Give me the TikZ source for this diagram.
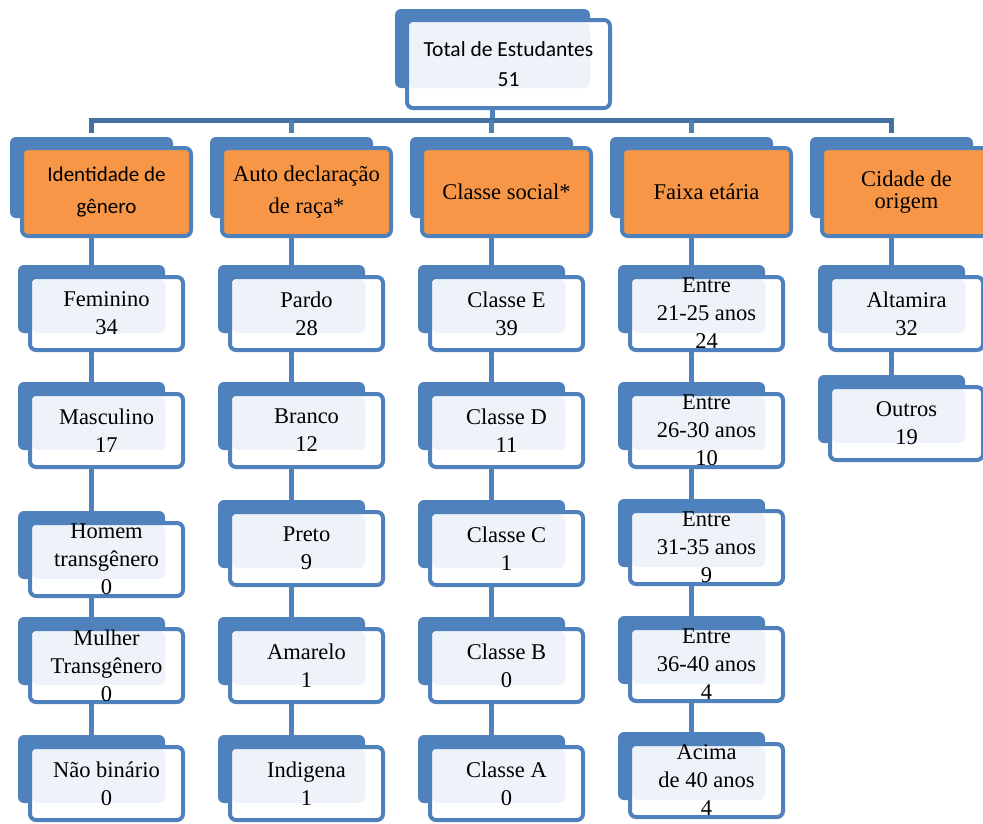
\documentclass[tikz,border=0pt]{standalone}
\usepackage{fontspec}
\setmainfont{Liberation Serif}
\newfontfamily\sansf{Carlito}
\usetikzlibrary{backgrounds}
\definecolor{obl}{HTML}{4F81BD}
\definecolor{obus}{HTML}{44709F}
\definecolor{oor}{HTML}{F79646}
\definecolor{olt}{HTML}{EEF2F9}
\tikzset{
 backbox/.style={fill=obl, draw=none, rounded corners=6pt, inner sep=0pt, outer sep=0pt, anchor=north west},
 kidb/.style={backbox, minimum width=147pt, minimum height=68pt},
 kidf/.style={draw=obl, line width=4pt, fill=white, rounded corners=6pt, inner sep=0pt,
   anchor=north west, minimum width=153pt, minimum height=73pt, align=center,
   font=\fontsize{22.5}{28}\selectfont,
   path picture={\fill[olt] ([shift={(2pt,-2pt)}]path picture bounding box.north west) rectangle ([shift={(-18pt,17pt)}]path picture bounding box.south east);}},
 catb/.style={backbox, minimum width=163pt, minimum height=81pt},
 catf/.style={draw=obl, line width=4pt, fill=oor, rounded corners=6pt, inner sep=0pt,
   anchor=north west, minimum width=169pt, minimum height=88pt, align=center,
   font=\fontsize{22.5}{32}\selectfont},
 topb/.style={backbox, minimum width=195pt, minimum height=79pt},
 topf/.style={draw=obl, line width=4pt, fill=white, rounded corners=6pt, inner sep=0pt,
   anchor=north west, minimum width=203pt, minimum height=88pt, align=center,
   font=\sansf\fontsize{21.5}{30}\selectfont,
   path picture={\fill[olt] ([shift={(2pt,-2pt)}]path picture bounding box.north west) rectangle ([shift={(-20pt,20pt)}]path picture bounding box.south east);}},
 conn/.style={draw=obl, line width=5pt},
 busline/.style={draw=obus, line width=5pt, line join=miter}
}
\newcommand\kidbox[4]{%
 \node[kidb] (#1-b) at (#2pt,-#3pt) {};
 \node[kidf] (#1) at (#2pt+10pt,-#3pt-10pt) {#4};}
\newcommand\catbox[4]{%
 \node[catb] (#1-b) at (#2pt,-137pt) {};
 \node[catf,#3] (#1) at (#2pt+10pt,-146pt) {#4};}
\begin{document}
\begin{tikzpicture}[x=1pt,y=1pt]
\useasboundingbox (0,0) rectangle (983,-823);
% top
\node[topb] (top-b) at (395,-9) {};
\node[topf] (top) at (405,-18) {Total de Estudantes\\51};
\coordinate (bus) at (0,-120);
% categories
\catbox{c1}{10}{font=\sansf\fontsize{21}{32}\selectfont}{Identidade de\\gênero}
\catbox{c2}{210}{}{Auto declaração\\de raça*}
\catbox{c3}{410}{}{Classe social*}
\catbox{c4}{610}{}{Faixa etária}
\catbox{c5}{810}{font=\fontsize{22.5}{22}\selectfont}{Cidade de\\origem}
% column 1
\kidbox{g1}{18}{265}{Feminino\\34}
\kidbox{g2}{18}{382}{Masculino\\17}
\kidbox{g3}{18}{511}{Homem\\transgênero\\0}
\kidbox{g4}{18}{617}{Mulher\\Transgênero\\0}
\kidbox{g5}{18}{735}{Não binário\\0}
% column 2
\kidbox{r1}{218}{265}{Pardo\\28}
\kidbox{r2}{218}{382}{Branco\\12}
\kidbox{r3}{218}{500}{Preto\\9}
\kidbox{r4}{218}{617}{Amarelo\\1}
\kidbox{r5}{218}{735}{Indigena\\1}
% column 3
\kidbox{s1}{418}{265}{Classe E\\39}
\kidbox{s2}{418}{382}{Classe D\\11}
\kidbox{s3}{418}{500}{Classe C\\1}
\kidbox{s4}{418}{617}{Classe B\\0}
\kidbox{s5}{418}{735}{Classe A\\0}
% column 4
\kidbox{a1}{618}{265}{Entre\\21-25 anos\\24}
\kidbox{a2}{618}{382}{Entre\\26-30 anos\\10}
\kidbox{a3}{618}{499}{Entre\\31-35 anos\\9}
\kidbox{a4}{618}{616}{Entre\\36-40 anos\\4}
\kidbox{a5}{618}{732}{Acima\\de 40 anos\\4}
% column 5
\kidbox{o1}{818}{265}{Altamira\\32}
\kidbox{o2}{818}{375}{Outros\\19}
% connectors
\begin{scope}[on background layer]
\draw[conn] (top-b.center) -- (top-b.center |- bus);
\draw[busline] ([yshift=-13pt]c1-b.north |- bus) -- (c1-b.north |- bus) -- (c5-b.north |- bus) -- ([yshift=-13pt]c5-b.north |- bus);
\draw[conn] (c2-b.north |- bus) -- ([yshift=-13pt]c2-b.north |- bus);
\draw[conn] (c3-b.north |- bus) -- ([yshift=-13pt]c3-b.north |- bus);
\draw[conn] (c4-b.north |- bus) -- ([yshift=-13pt]c4-b.north |- bus);
\draw[conn] (c1-b.center) -- (g5-b.center);
\draw[conn] (c2-b.center) -- (r5-b.center);
\draw[conn] (c3-b.center) -- (s5-b.center);
\draw[conn] (c4-b.center) -- (a5-b.center);
\draw[conn] (c5-b.center) -- (o2-b.center);
\end{scope}
\end{tikzpicture}
\end{document}
